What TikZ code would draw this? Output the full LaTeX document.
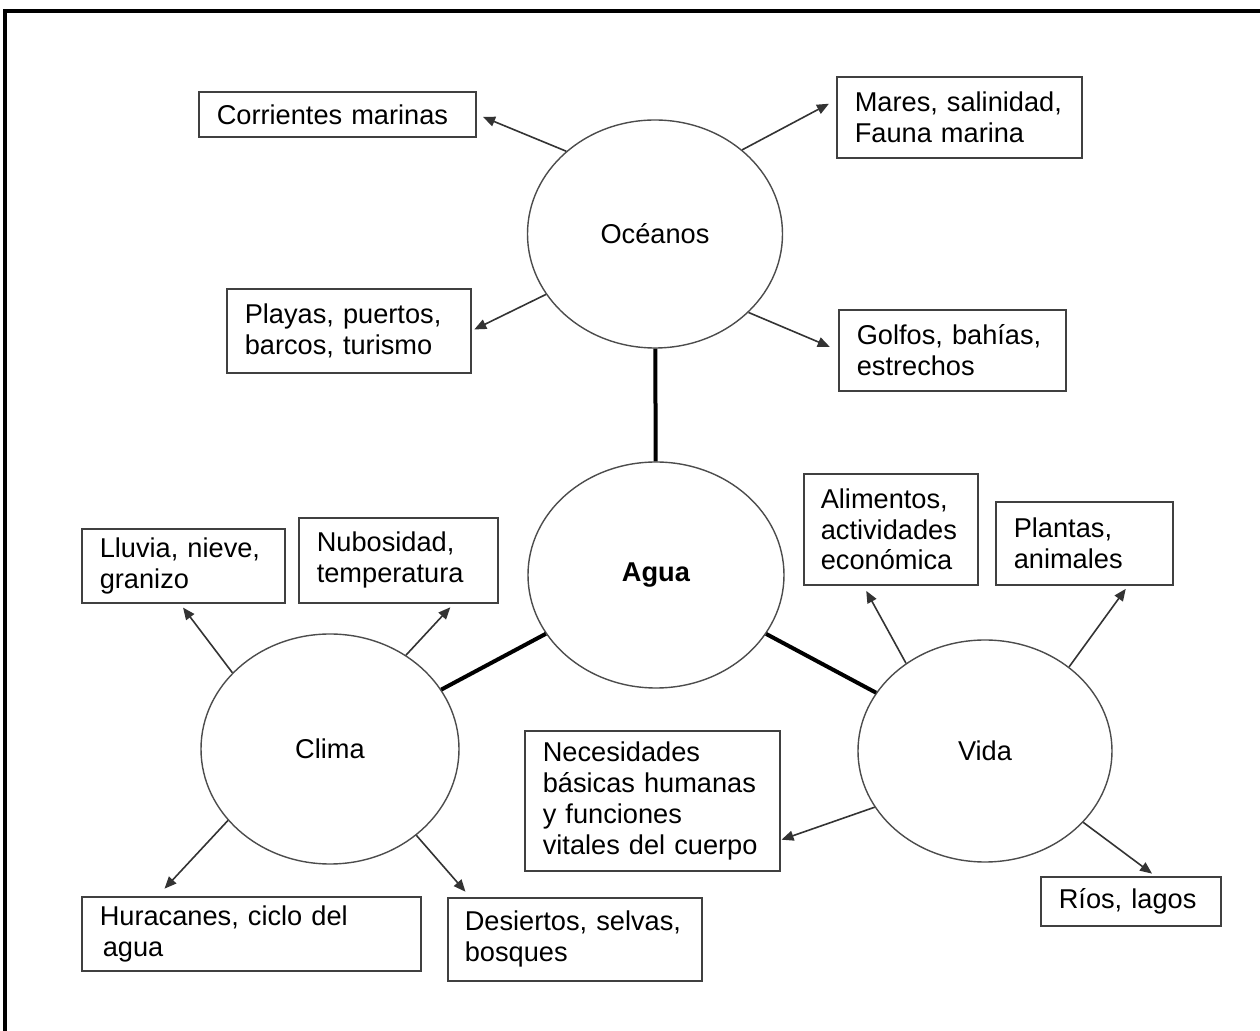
\documentclass[tikz,border=0pt]{standalone}
\usepackage{fontspec}
\setmainfont{Liberation Sans}
\usetikzlibrary{arrows.meta,shapes.geometric}

\begin{document}
\begin{tikzpicture}[x=0.5pt,y=-0.5pt,
    font=\fontsize{13.6}{15.4}\selectfont,
    box/.style={draw=black!75, line width=0.8pt, fill=white, anchor=north west,
        inner xsep=9pt, inner ysep=2pt, align=left},
    bubble/.style={draw=black!70, line width=0.7pt, ellipse, inner sep=0pt},
    link/.style={line width=2pt},
    arr/.style={draw=black!80, line width=0.8pt, -{Triangle[length=6pt,width=5pt]}}]

    \useasboundingbox (0,0) rectangle (1260,1031);
    \draw[line width=2pt] (5,1031) -- (5,11) -- (1260,11);

    % circles
    \node[bubble, minimum width=127.5pt, minimum height=114pt] at (655,234) (oceanos) {Océanos};
    \node[bubble, minimum width=128pt, minimum height=113pt] at (656,575) (agua) {\textbf{Agua}};
    \node[bubble, minimum width=129pt, minimum height=115pt] at (330,749) (clima) {Clima};
    \node[bubble, minimum width=127pt, minimum height=111pt] at (985,751) (vida) {Vida};

    % boxes
    \node[box, text width=120.5pt, minimum height=22.5pt] at (198,91) (corrientes) {Corrientes marinas};
    \node[box, text width=104.5pt, minimum height=40.5pt] at (836,76) (mares) {Mares, salinidad,\\Fauna marina};
    \node[box, text width=104pt, minimum height=42pt] at (226,288) (playas) {Playas, puertos,\\barcos, turismo};
    \node[box, text width=95.5pt, minimum height=40.5pt] at (838,309) (golfos) {Golfos, bahías,\\estrechos};
    \node[box, text width=83.5pt, minimum height=37pt] at (81,528) (lluvia) {Lluvia, nieve,\\granizo};
    \node[box, text width=81.5pt, minimum height=42.5pt] at (298,517) (nubosidad) {Nubosidad,\\temperatura};
    \node[box, text width=70pt, minimum height=55.5pt, inner xsep=8.5pt] at (803,473) (alimentos) {Alimentos,\\actividades\\económica};
    \node[box, text width=70.5pt, minimum height=41.5pt] at (995,501) (plantas) {Plantas,\\animales};
    \node[box, text width=109.5pt, minimum height=70pt] at (524,730) (necesidades) {Necesidades\\básicas humanas\\y funciones\\vitales del cuerpo};
    \node[box, text width=72pt, minimum height=24.5pt] at (1040,876) (rios) {Ríos, lagos};
    \node[box, text width=151.5pt, minimum height=37pt] at (81,896) (huracanes) {Huracanes, ciclo del\\\hspace{1.5pt}agua};
    \node[box, text width=110pt, minimum height=41.5pt, inner xsep=8.5pt] at (447,897) (desiertos) {Desiertos, selvas,\\bosques};

    % links to the centre
    \draw[link] (oceanos) -- (agua);
    \draw[link] (agua) -- (clima);
    \draw[link] (agua) -- (vida);

    % arrows
    \draw[arr, shorten >=3.5pt] (oceanos.137) -- (corrientes.east);
    \draw[arr, shorten >=4pt] (oceanos.44) -- (mares.172);
    \draw[arr, shorten >=1.5pt] (oceanos.209) -- (playas.east);
    \draw[arr, shorten >=4.5pt] (oceanos.320) -- (golfos.west);
    \draw[arr, shorten >=2.5pt] (clima.142) -- (lluvia.265);
    \draw[arr, shorten >=2.5pt] (clima.51) -- (nubosidad.322);
    \draw[arr, shorten >=5pt] (clima.215) -- (huracanes.158);
    \draw[arr, shorten >=3.5pt] (clima.315) -- (desiertos.158);
    \draw[arr, shorten >=3pt] (vida.132) -- (alimentos.244);
    \draw[arr, shorten >=2pt] (vida.45) -- (plantas.316);
    \draw[arr, shorten >=0.5pt] (vida.207) -- (necesidades.343);
    \draw[arr, shorten >=2pt] (vida.324) -- (rios.46);
\end{tikzpicture}
\end{document}
